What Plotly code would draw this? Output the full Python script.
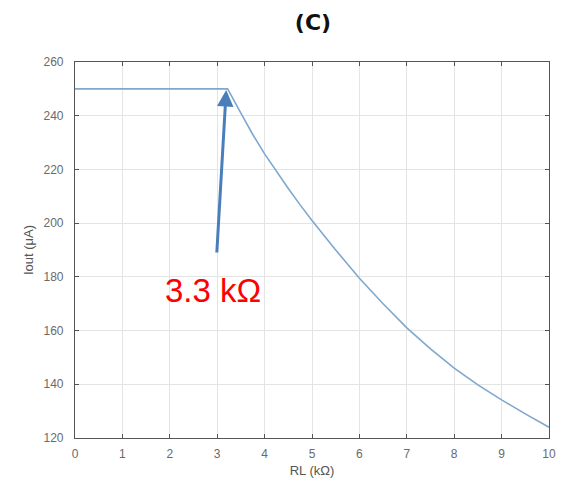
import plotly.graph_objects as go

rl_kohm = [0, 1, 2, 3, 3.22, 3.5, 3.75, 4, 4.25, 4.5, 4.75, 5, 5.5, 6, 6.5, 7, 7.5, 8, 8.5, 9, 9.5, 10]
iout_ua = [250, 250, 250, 250, 250, 241, 233, 225.8, 219.2, 212.9, 206.8, 201, 190, 179.5, 170, 161, 153.2, 146, 139.8, 134.2, 129, 124]

x_ticks = list(range(0, 11))
y_ticks = list(range(120, 261, 20))

fig = go.Figure()
fig.add_trace(go.Scatter(x=rl_kohm, y=iout_ua, mode="lines",
                         line=dict(color="#7fa8cc", width=1.6), showlegend=False))

axis_common = dict(showgrid=True, gridcolor="#e4e4e4", gridwidth=1,
                   showline=True, linecolor="#555555", linewidth=1.2, mirror="ticks",
                   ticks="inside", ticklen=4, tickcolor="#555555",
                   tickfont=dict(family="Liberation Sans", size=12, color="#6a6a6a"),
                   zeroline=False)

fig.update_xaxes(range=[0, 10], tickvals=x_ticks, ticklabelstandoff=4,
                 title=dict(text="RL (kΩ)", font=dict(family="Liberation Sans", size=13, color="#555555"), standoff=6),
                 **axis_common)
fig.update_yaxes(range=[120, 260], tickvals=y_ticks, ticklabelstandoff=8,
                 title=dict(text="Iout (μA)", font=dict(family="Liberation Sans", size=13, color="#555555"), standoff=6),
                 **axis_common)

fig.add_annotation(x=3.19, y=249.6, ax=2.99, ay=188.5, xref="x", yref="y", axref="x", ayref="y",
                   showarrow=True, arrowhead=2, arrowsize=1.1, arrowwidth=3, arrowcolor="#4a7ebb", text="")
fig.add_annotation(x=2.92, y=175.1, xref="x", yref="y", text="3.3 kΩ", showarrow=False,
                   font=dict(family="Liberation Sans", size=33, color="#ff0000"))

W, H = 560, 489
fig.update_layout(
    width=W, height=H,
    margin=dict(l=67, r=17, t=54, b=59),
    paper_bgcolor="white", plot_bgcolor="white",
    title=dict(text="<b>(C)</b>", x=(67 + 476 / 2) / W, xanchor="center", y=1 - 14 / H, yanchor="middle",
               font=dict(family="DejaVu Sans", size=22, color="#111111")),
)

fig.write_html("out.html")
